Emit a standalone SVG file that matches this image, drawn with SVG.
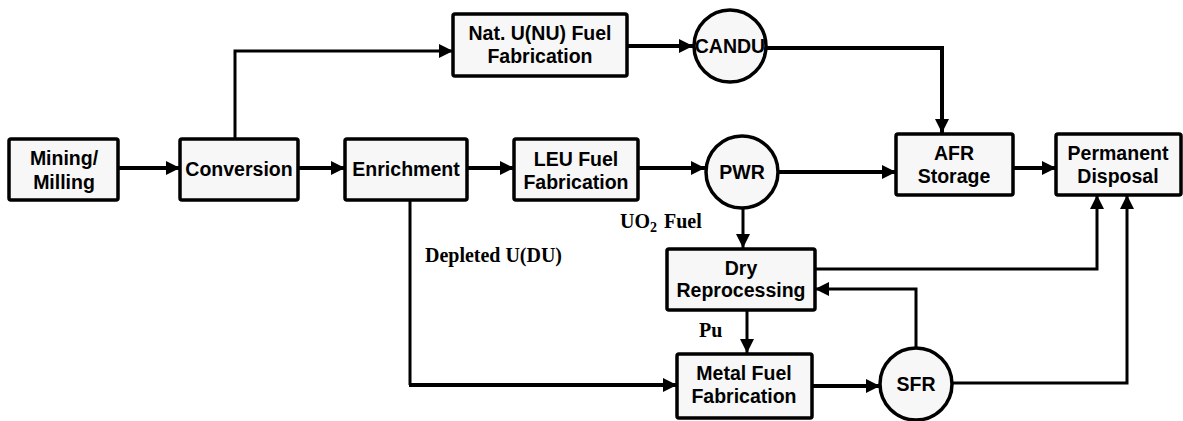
<svg xmlns="http://www.w3.org/2000/svg" width="1183" height="421" viewBox="0 0 1183 421">
<defs>
<marker id="ah" markerUnits="userSpaceOnUse" markerWidth="14" markerHeight="14" refX="12" refY="6" orient="auto" viewBox="0 0 12 12"><path d="M0,0 L12,6 L0,12 z" fill="#000"/></marker>
</defs>
<style>
.box{fill:#f7f7f7;stroke:#000;stroke-width:3.5}
.t{font-family:"Liberation Sans",Arial,sans-serif;font-weight:bold;font-size:19.5px;text-anchor:middle;fill:#000}
.s{font-family:"Liberation Serif","Times New Roman",serif;font-weight:bold;font-size:20px;fill:#000}
.c{fill:none;stroke:#000;stroke-width:4}
.c3{fill:none;stroke:#000;stroke-width:3}
.a{marker-end:url(#ah)}
</style>
<rect width="1183" height="421" fill="#fff"/>
<g id="connectors">
<path class="c a" d="M118,168 H180"/>
<path class="c a" d="M298,168 H345"/>
<path class="c3 a" d="M235,138 V51 H453"/>
<path class="c a" d="M467,168 H514"/>
<path class="c a" d="M638,168 H705"/>
<path class="c a" d="M627,46 H693"/>
<path class="c a" d="M767,48 H942 V133"/>
<path class="c a" d="M779,172 H896"/>
<path class="c a" d="M1013,168 H1056"/>
<path class="c3 a" d="M743,208 V248"/>
<path class="c3 a" d="M747,310 V353"/>
<path class="c3 a" d="M815,269 H1097 V195"/>
<path class="c3 a" d="M916,348 V289 H815"/>
<path class="c3 a" d="M952,383 H1127 V195"/>
<path class="c a" d="M812,386 H880"/>
<path class="c3" d="M410,200 V385"/>
<path class="c a" d="M409,385 H677"/>
</g>
<g id="mining"><rect class="box" x="9" y="139" width="109" height="61" rx="2"/><text class="t" x="64" y="165">Mining/</text><text class="t" x="64" y="189">Milling</text></g>
<g id="conversion"><rect class="box" x="180" y="139" width="118" height="61" rx="2"/><text class="t" x="239" y="176">Conversion</text></g>
<g id="enrichment"><rect class="box" x="345" y="139" width="122" height="61" rx="2"/><text class="t" x="406" y="176">Enrichment</text></g>
<g id="leu"><rect class="box" x="514" y="139" width="124" height="61" rx="2"/><text class="t" x="576" y="166">LEU Fuel</text><text class="t" x="576" y="189">Fabrication</text></g>
<g id="natu"><rect class="box" x="453" y="14" width="174" height="62" rx="2"/><text class="t" x="540" y="40">Nat. U(NU) Fuel</text><text class="t" x="540" y="63">Fabrication</text></g>
<g id="candu"><circle class="box" cx="730" cy="46" r="36"/><text class="t" x="730" y="53">CANDU</text></g>
<g id="pwr"><circle class="box" cx="742" cy="172" r="36"/><text class="t" x="742" y="179">PWR</text></g>
<g id="afr"><rect class="box" x="896" y="134" width="117" height="61" rx="2"/><text class="t" x="954" y="160">AFR</text><text class="t" x="954" y="183">Storage</text></g>
<g id="disposal"><rect class="box" x="1056" y="134" width="125" height="61" rx="2"/><text class="t" x="1118" y="160">Permanent</text><text class="t" x="1118" y="183">Disposal</text></g>
<g id="dry"><rect class="box" x="667" y="249" width="148" height="61" rx="2"/><text class="t" x="741" y="275">Dry</text><text class="t" x="741" y="297">Reprocessing</text></g>
<g id="metal"><rect class="box" x="677" y="354" width="135" height="64" rx="2"/><text class="t" x="744" y="380">Metal Fuel</text><text class="t" x="744" y="403">Fabrication</text></g>
<g id="sfr"><circle class="box" cx="916" cy="384" r="36"/><text class="t" x="916" y="391">SFR</text></g>
<g id="labels">
<text class="s" x="620" y="228">UO<tspan font-size="14" dy="4">2</tspan><tspan dy="-4" dx="7">Fuel</tspan></text>
<text class="s" x="425" y="262" textLength="137" lengthAdjust="spacingAndGlyphs">Depleted U(DU)</text>
<text class="s" x="699" y="337">Pu</text>
</g>
</svg>
